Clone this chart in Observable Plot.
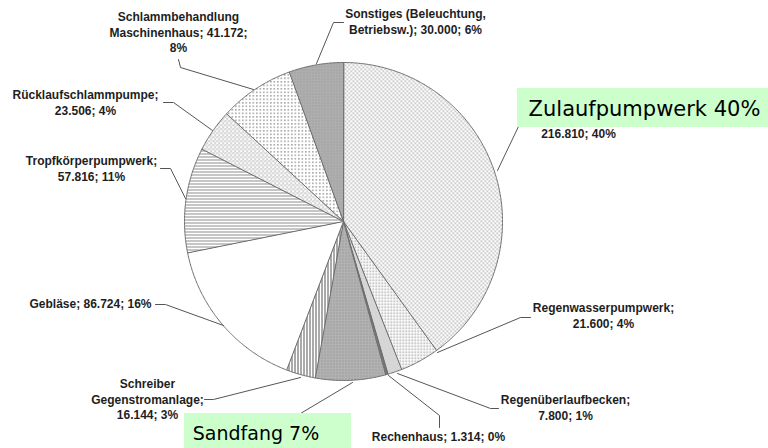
<!DOCTYPE html>
<html><head><meta charset="utf-8">
<script src="https://cdn.jsdelivr.net/npm/d3@7"></script>
<script src="https://cdn.jsdelivr.net/npm/@observablehq/plot@0.6"></script>
<style>body{margin:0;background:#fff}</style>
</head><body><div id="chart"></div>
<script>
// ---- data ----
const categories = ["Zulaufpumpwerk","Regenwasserpumpwerk","Regenüberlaufbecken","Rechenhaus","Sandfang","Schreiber Gegenstromanlage","Gebläse","Tropfkörperpumpwerk","Rücklaufschlammpumpe","Schlammbehandlung Maschinenhaus","Sonstiges (Beleuchtung, Betriebsw.)"];
const values = [216810, 21600, 7800, 1314, 38500, 16144, 86724, 57816, 23506, 41172, 30000];
// label lines as visible in the picture (the first Zulaufpumpwerk line and the
// Sandfang label are covered by the green call-out boxes)
const labelLines = [
  ["{v}; {p}%"],
  ["Regenwasserpumpwerk;", "{v}; {p}%"],
  ["Regenüberlaufbecken;", "{v}; {p}%"],
  ["Rechenhaus; {v}; {p}%"],
  [],
  ["Schreiber", "Gegenstromanlage;", "{v}; {p}%"],
  ["Gebläse; {v}; {p}%"],
  ["Tropfkörperpumpwerk;", "{v}; {p}%"],
  ["Rücklaufschlammpumpe;", "{v}; {p}%"],
  ["Schlammbehandlung", "Maschinenhaus; {v};", "{p}%"],
  ["Sonstiges (Beleuchtung,", "Betriebsw.); {v}; {p}%"]
];
const highlighted = ["Zulaufpumpwerk", "Sandfang"];

// ---- layout ----
const pie = {cx: 343, cy: 221, r: 159};
const lineGap = 15.5;
const labelLayout = [
  {x: 578, y: 134}, {x: 603, y: 308}, {x: 565, y: 400}, {x: 438, y: 437},
  {x: 262, y: 430}, {x: 147, y: 384}, {x: 90, y: 304}, {x: 91, y: 161},
  {x: 85, y: 95}, {x: 178, y: 17}, {x: 415, y: 14}
];
const leaderLayout = [
  [[528,126],[518,126],[497,170]],
  [[530,317],[520,317],[437,352]],
  [[498,408],[490,408],[397,373]],
  [[439,427],[439,415],[388,375]],
  [[290,420],[300,413],[352,382]],
  [[204,399],[213,399],[300,377]],
  [[155,304],[165,304],[223,325]],
  [[160,168],[170,168],[185,198]],
  [[163,102],[173,102],[212,130]],
  [[178,59],[180,67],[253,89]],
  [[343,22],[333,22],[316,63]]
];
const boxLayout = [
  {x1: 517, x2: 768, y1: 88, y2: 127, tx: 644, ty: 108.5, fs: 21},
  {x1: 184, x2: 351, y1: 413, y2: 449, tx: 255.5, ty: 433, fs: 19}
];
const patternIds = ["pZul","pRw","pRu","pRe","pSa","pSc","white","pTr","pRl","pSl","pSo"];

// ---- derived ----
const fmt = d3.formatLocale({decimal: ",", thousands: ".", grouping: [3], currency: ["", "€"]}).format(",");
const total = d3.sum(values);
const arcs = d3.pie().sort(null).value(d => d)(values);
const slices = categories.map((name, i) => ({
  name, value: values[i], pct: Math.round(values[i] / total * 100),
  start: arcs[i].startAngle, end: arcs[i].endAngle
}));
const piePts = slices.flatMap(s => {
  const n = Math.max(2, Math.ceil((s.end - s.start) / (Math.PI / 360)));
  const pts = [{name: s.name, x: pie.cx, y: pie.cy}];
  for (let k = 0; k <= n; k++) {
    const a = s.start + (s.end - s.start) * k / n;
    pts.push({name: s.name, x: pie.cx + pie.r * Math.sin(a), y: pie.cy - pie.r * Math.cos(a)});
  }
  return pts;
});
const labelPts = slices.flatMap((s, i) => labelLines[i].map((t, j) => ({
  text: t.replace("{v}", fmt(s.value)).replace("{p}", s.pct),
  x: labelLayout[i].x, y: labelLayout[i].y + j * lineGap
})));
const leaderPts = leaderLayout.flatMap((pl, i) => pl.map(([x, y]) => ({id: i, x, y})));
const boxes = highlighted.map((name, i) => {
  const s = slices.find(d => d.name === name);
  return {...boxLayout[i], label: `${name} ${s.pct}%`};
});
const colorRange = patternIds.map(id => id === "white" ? "#ffffff" : `url(#${id})`);

const chart = Plot.plot({
  width: 768, height: 448, margin: 0,
  x: {domain: [0, 768], range: [0, 768], axis: null},
  y: {domain: [0, 448], range: [0, 448], axis: null},
  color: {type: "ordinal", domain: categories, range: colorRange},
  style: {background: "#fff"},
  marks: [
    Plot.line(piePts, {x: "x", y: "y", z: "name", fill: "name", stroke: "#6e6e6e", strokeWidth: 1, curve: "linear-closed", strokeLinejoin: "round"}),
    Plot.line(leaderPts, {x: "x", y: "y", z: "id", stroke: "#555", strokeWidth: 1}),
    Plot.text(labelPts, {x: "x", y: "y", text: "text", fontFamily: "Liberation Sans, Arial, sans-serif", fontWeight: "bold", fontSize: 12, fill: "#1e1e1e", textAnchor: "middle", lineAnchor: "middle"}),
    Plot.rect(boxes, {x1: "x1", x2: "x2", y1: "y1", y2: "y2", fill: "#ccffcc"}),
    Plot.text(boxes, {x: "tx", y: "ty", text: "label", fontSize: d => d.fs, fontFamily: "DejaVu Sans, sans-serif", fill: "#000", textAnchor: "middle", lineAnchor: "middle"})
  ]
});

const defs = `
<pattern id="pZul" width="4" height="4" patternUnits="userSpaceOnUse"><rect width="4" height="4" fill="#fff"/><rect width="1.5" height="1.5" fill="#aaa"/><rect x="2" y="2" width="1.5" height="1.5" fill="#aaa"/></pattern>
<pattern id="pRw" width="3" height="3" patternUnits="userSpaceOnUse"><rect width="3" height="3" fill="#fff"/><rect width="1.5" height="1.5" fill="#a0a0a0"/></pattern>
<pattern id="pRu" width="3" height="3" patternUnits="userSpaceOnUse"><rect width="3" height="3" fill="#d6d6d6"/></pattern>
<pattern id="pRe" width="3" height="3" patternUnits="userSpaceOnUse"><rect width="3" height="3" fill="#777"/></pattern>
<pattern id="pSa" width="3" height="3" patternUnits="userSpaceOnUse"><rect width="3" height="3" fill="#b2b2b2"/><rect width="1" height="1" fill="#888"/></pattern>
<pattern id="pSc" width="3" height="3" patternUnits="userSpaceOnUse"><rect width="3" height="3" fill="#fff"/><rect width="1" height="3" fill="#555"/></pattern>
<pattern id="pTr" width="3" height="3" patternUnits="userSpaceOnUse"><rect width="3" height="3" fill="#fff"/><rect width="3" height="1" fill="#8c8c8c"/></pattern>
<pattern id="pRl" width="4" height="4" patternUnits="userSpaceOnUse"><rect width="4" height="4" fill="#fff"/><rect width="1.3" height="1.3" fill="#999"/><rect x="2" y="2" width="1.3" height="1.3" fill="#999"/><rect x="2" y="0" width="1" height="1" fill="#ccc"/></pattern>
<pattern id="pSl" width="3.5" height="3.5" patternUnits="userSpaceOnUse"><rect width="3.5" height="3.5" fill="#fff"/><rect width="1.6" height="1.6" fill="#a8a8a8"/></pattern>
<pattern id="pSo" width="3" height="3" patternUnits="userSpaceOnUse"><rect width="3" height="3" fill="#aeaeae"/><rect width="1" height="1" fill="#959595"/></pattern>`;
d3.select(chart).insert("defs", ":first-child").html(defs);
document.getElementById("chart").appendChild(chart);
</script>
</body></html>
